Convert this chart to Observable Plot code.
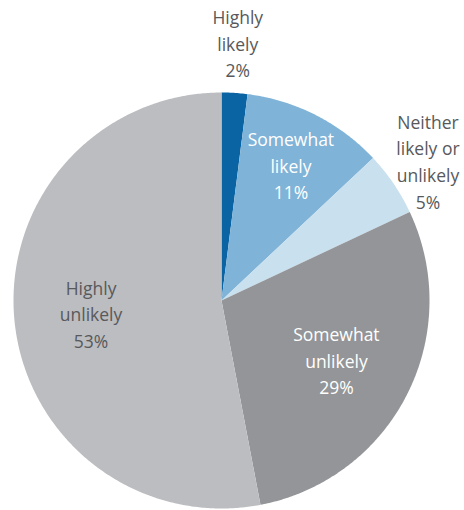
<!DOCTYPE html>
<html>
<head>
<meta charset="utf-8">
<script src="https://cdn.jsdelivr.net/npm/d3@7"></script>
<script src="https://cdn.jsdelivr.net/npm/@observablehq/plot@0.6"></script>
<style>
  html, body { margin: 0; padding: 0; background: #fff; }
</style>
</head>
<body>
<div id="chart"></div>
<script>
const categories = ["Highly likely", "Somewhat likely", "Neither likely or unlikely", "Somewhat unlikely", "Highly unlikely"];
const labelTexts = ["Highly\nlikely\n2%", "Somewhat\nlikely\n11%", "Neither\nlikely or\nunlikely\n5%", "Somewhat\nunlikely\n29%", "Highly\nunlikely\n53%"];
const values = [2, 11, 5, 29, 53];
const sliceColors = ["#0a64a4", "#7fb3d7", "#c9e0ee", "#939598", "#bcbdc1"];
const labelRadius = [1.245, 0.735, 1.2, 0.62, 0.63];
const labelOnDark = [false, true, false, true, false];

const total = d3.sum(values);
const toXY = (deg, r) => ({ x: r * Math.sin(deg * Math.PI / 180), y: r * Math.cos(deg * Math.PI / 180) });

const polys = [];
const labels = [];
let acc = 0;
categories.forEach((name, i) => {
  const a0 = acc / total * 360;
  acc += values[i];
  const a1 = acc / total * 360;
  polys.push({ name, ...toXY(0, 0) });
  const steps = Math.max(2, Math.ceil((a1 - a0) / 0.5));
  for (let k = 0; k <= steps; k++) {
    polys.push({ name, ...toXY(a0 + (a1 - a0) * k / steps, 1) });
  }
  const mid = (a0 + a1) / 2;
  labels.push({ name, text: labelTexts[i], dark: labelOnDark[i], ...toXY(mid, labelRadius[i]) });
});

const font = "'Open Sans', sans-serif";

const chart = Plot.plot({
  width: 464,
  height: 510,
  marginLeft: 13,
  marginRight: 35,
  marginTop: 92,
  marginBottom: 2,
  x: { domain: [-1, 1], axis: null },
  y: { domain: [-1, 1], axis: null },
  color: { type: "ordinal", domain: categories, range: sliceColors },
  style: { fontFamily: font, background: "#fff", overflow: "visible" },
  marks: [
    Plot.line(polys, { x: "x", y: "y", z: "name", fill: "name", stroke: null, curve: "linear" }),
    Plot.text(labels.filter(d => !d.dark), { x: "x", y: "y", text: "text", fill: "#58595b", fontSize: 17.5, lineHeight: 1.52, fontFamily: font }),
    Plot.text(labels.filter(d => d.dark), { x: "x", y: "y", text: "text", fill: "#ffffff", fontSize: 17.5, lineHeight: 1.52, fontFamily: font })
  ]
});
document.getElementById("chart").appendChild(chart);
</script>
</body>
</html>
